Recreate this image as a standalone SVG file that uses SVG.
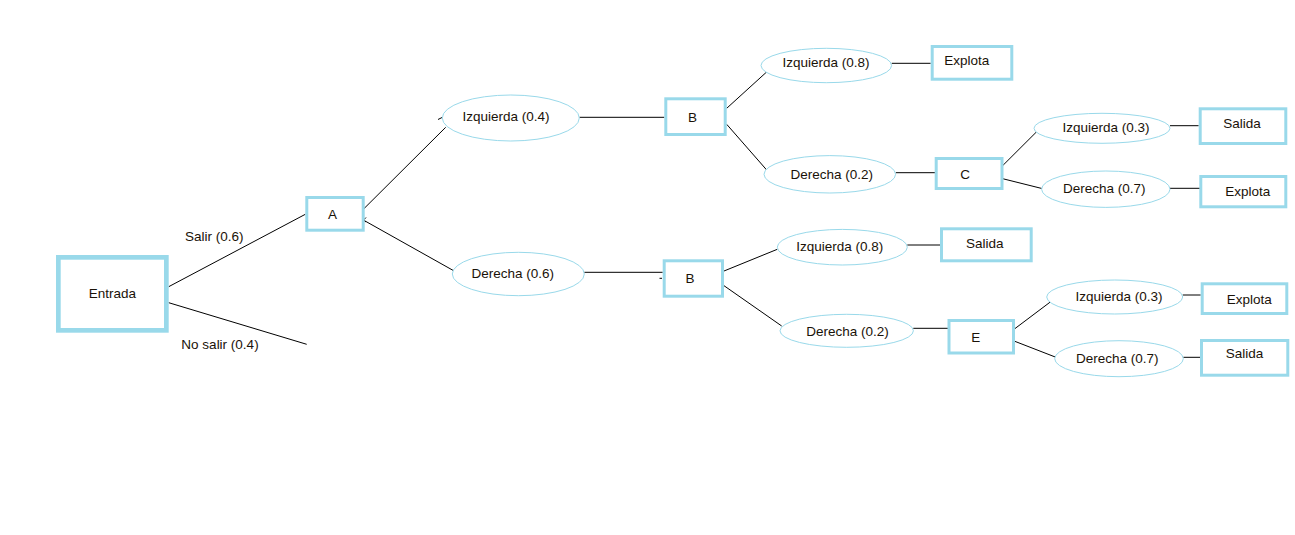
<svg xmlns="http://www.w3.org/2000/svg" width="1295" height="535" viewBox="0 0 1295 535">
<style>
.bx{fill:#fff;stroke:#99d9ea;stroke-width:3}
.big{stroke-width:4.7}
.el{fill:#fff;stroke:#99d9ea;stroke-width:1}
.ln{stroke:#000;stroke-width:1;fill:none}
text{font-family:"Liberation Sans",Arial,sans-serif;font-size:13.5px;fill:#1a1208;text-anchor:middle}
</style>
<rect width="1295" height="535" fill="#fff"/>
<g id="connectors">
<line class="ln" x1="168.7" y1="286.7" x2="305.3" y2="214.3"/>
<line class="ln" x1="168.7" y1="302.7" x2="306.7" y2="344.3"/>
<line class="ln" x1="363.3" y1="209.3" x2="445.7" y2="127.3"/>
<path class="ln" d="M438,119.5 L442,117.5"/>
<line class="ln" x1="363.3" y1="220" x2="453.3" y2="270.5"/>
<path class="ln" d="M366,217.5 L363.5,220 L366,222"/>
<line class="ln" x1="579.3" y1="117.3" x2="664.3" y2="117.3"/>
<line class="ln" x1="584.3" y1="272.3" x2="662.7" y2="272.3"/>
<line class="ln" x1="659.5" y1="278.3" x2="662" y2="278.3"/>
<line class="ln" x1="726.7" y1="108.3" x2="767.7" y2="71"/>
<line class="ln" x1="726.7" y1="124.3" x2="766.7" y2="170"/>
<line class="ln" x1="891.7" y1="63.3" x2="930.7" y2="63.3"/>
<line class="ln" x1="895.7" y1="172.7" x2="935" y2="172.7"/>
<line class="ln" x1="1002" y1="166.3" x2="1036.7" y2="131.7"/>
<line class="ln" x1="1002.7" y1="178.7" x2="1042.7" y2="188.7"/>
<line class="ln" x1="1170" y1="125.7" x2="1198.7" y2="125.7"/>
<line class="ln" x1="1170" y1="188.3" x2="1200" y2="188.3"/>
<line class="ln" x1="724" y1="271" x2="777.3" y2="249.3"/>
<line class="ln" x1="724" y1="285.7" x2="781.7" y2="326"/>
<line class="ln" x1="907.3" y1="245" x2="940" y2="245"/>
<line class="ln" x1="913.3" y1="328.3" x2="948.3" y2="328.3"/>
<line class="ln" x1="1014" y1="329.3" x2="1050.7" y2="301.7"/>
<line class="ln" x1="1014" y1="341" x2="1056" y2="357.3"/>
<line class="ln" x1="1182.7" y1="295" x2="1200.7" y2="295"/>
<line class="ln" x1="1183.3" y1="357.3" x2="1200" y2="357.3"/>
</g>
<g id="labels">
<text x="214.2" y="240.7">Salir (0.6)</text>
<text x="220" y="349.3">No salir (0.4)</text>
</g>
<g id="entrada"><rect class="bx big" x="58.35" y="257.35" width="108" height="73"/><text x="112.5" y="297.7">Entrada</text></g>
<g id="A"><rect class="bx" x="306.8" y="197.5" width="56.4" height="32.7"/><text x="332.5" y="219">A</text></g>
<g id="izq04"><ellipse class="el" cx="510.8" cy="118" rx="68.5" ry="23"/><text x="506" y="121">Izquierda (0.4)</text></g>
<g id="der06"><ellipse class="el" cx="518.3" cy="274" rx="66" ry="21.7"/><text x="512.8" y="278.3">Derecha (0.6)</text></g>
<g id="B1"><rect class="bx" x="665.8" y="98.8" width="59.4" height="35.7"/><text x="692.5" y="121.5">B</text></g>
<g id="B2"><rect class="bx" x="664.2" y="260.8" width="58.3" height="35.4"/><text x="690" y="282.7">B</text></g>
<g id="izq08a"><ellipse class="el" cx="826.3" cy="65.5" rx="65.3" ry="17.2"/><text x="826" y="66.7">Izquierda (0.8)</text></g>
<g id="explota1"><rect class="bx" x="932.2" y="46.5" width="79.6" height="32.7"/><text x="966.8" y="65">Explota</text></g>
<g id="der02a"><ellipse class="el" cx="829.8" cy="174.3" rx="65.8" ry="18.7"/><text x="831.8" y="179">Derecha (0.2)</text></g>
<g id="C"><rect class="bx" x="936.2" y="158.5" width="65.8" height="30"/><text x="965" y="179">C</text></g>
<g id="izq03a"><ellipse class="el" cx="1102" cy="128.3" rx="68" ry="15"/><text x="1106" y="132.3">Izquierda (0.3)</text></g>
<g id="salida1"><rect class="bx" x="1200.2" y="108.8" width="85.6" height="34.7"/><text x="1242" y="128.3">Salida</text></g>
<g id="der07a"><ellipse class="el" cx="1105.8" cy="189.2" rx="64.2" ry="18.2"/><text x="1104.3" y="193.3">Derecha (0.7)</text></g>
<g id="explota2"><rect class="bx" x="1200.8" y="176.5" width="85" height="30.3"/><text x="1247.8" y="196">Explota</text></g>
<g id="izq08b"><ellipse class="el" cx="842.3" cy="247.2" rx="65" ry="17.8"/><text x="839.7" y="251">Izquierda (0.8)</text></g>
<g id="salida2"><rect class="bx" x="941.5" y="228.8" width="89.7" height="32"/><text x="984.7" y="248.3">Salida</text></g>
<g id="der02b"><ellipse class="el" cx="846.7" cy="330.8" rx="66.7" ry="16.5"/><text x="847.5" y="335.7">Derecha (0.2)</text></g>
<g id="E"><rect class="bx" x="949" y="320.5" width="64.5" height="32.5"/><text x="975.7" y="341.7">E</text></g>
<g id="izq03b"><ellipse class="el" cx="1114.7" cy="297" rx="68" ry="17"/><text x="1119" y="301">Izquierda (0.3)</text></g>
<g id="explota3"><rect class="bx" x="1202.2" y="283.8" width="84.6" height="29.7"/><text x="1249.2" y="304.3">Explota</text></g>
<g id="der07b"><ellipse class="el" cx="1119" cy="358.7" rx="64.3" ry="18"/><text x="1117.2" y="362.7">Derecha (0.7)</text></g>
<g id="salida3"><rect class="bx" x="1201.5" y="340.5" width="86.3" height="34.7"/><text x="1244.5" y="358.3">Salida</text></g>
</svg>
